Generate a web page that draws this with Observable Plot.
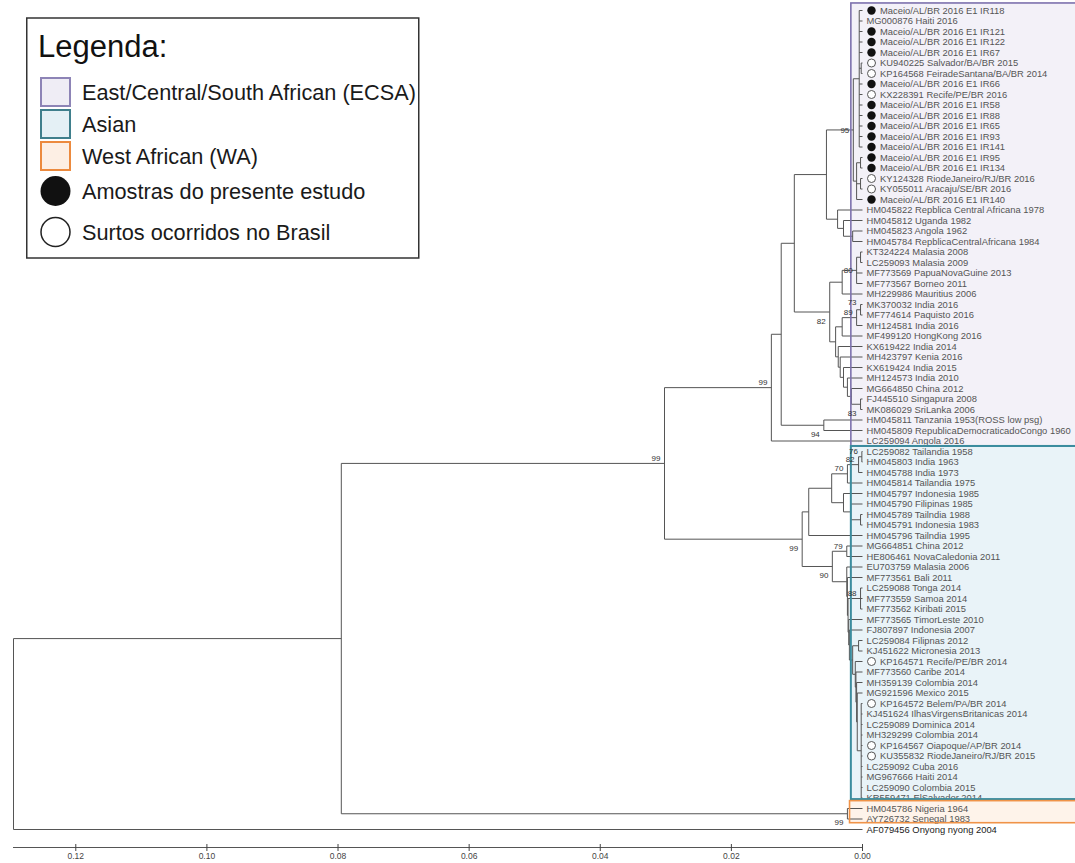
<!DOCTYPE html>
<html>
<head>
<meta charset="utf-8">
<script src="https://cdn.jsdelivr.net/npm/d3@7"></script>
<script src="https://cdn.jsdelivr.net/npm/@observablehq/plot@0.6"></script>
<style>
html,body{margin:0;padding:0;background:#fff;}
#wrap{position:relative;width:1075px;height:863px;overflow:hidden;background:#fff;}
#legend{position:absolute;left:0;top:0;}
</style>
</head>
<body>
<div id="wrap">
<div id="chart"></div>
<svg id="legend" width="430" height="275" font-family="Liberation Sans, Arial, sans-serif"></svg>
</div>
<script>
// ---------------- DATA ----------------
const leafNames = [
"Maceio/AL/BR 2016 E1 IR118","MG000876 Haiti 2016","Maceio/AL/BR 2016 E1 IR121","Maceio/AL/BR 2016 E1 IR122",
"Maceio/AL/BR 2016 E1 IR67","KU940225 Salvador/BA/BR 2015","KP164568 FeiradeSantana/BA/BR 2014","Maceio/AL/BR 2016 E1 IR66",
"KX228391 Recife/PE/BR 2016","Maceio/AL/BR 2016 E1 IR58","Maceio/AL/BR 2016 E1 IR88","Maceio/AL/BR 2016 E1 IR65",
"Maceio/AL/BR 2016 E1 IR93","Maceio/AL/BR 2016 E1 IR141","Maceio/AL/BR 2016 E1 IR95","Maceio/AL/BR 2016 E1 IR134",
"KY124328 RiodeJaneiro/RJ/BR 2016","KY055011 Aracaju/SE/BR 2016","Maceio/AL/BR 2016 E1 IR140",
"HM045822 Repblica Central Africana 1978","HM045812 Uganda 1982","HM045823 Angola 1962","HM045784 RepblicaCentralAfricana 1984",
"KT324224 Malasia 2008","LC259093 Malasia 2009","MF773569 PapuaNovaGuine 2013","MF773567 Borneo 2011","MH229986 Mauritius 2006",
"MK370032 India 2016","MF774614 Paquisto 2016","MH124581 India 2016","MF499120 HongKong 2016","KX619422 India 2014",
"MH423797 Kenia 2016","KX619424 India 2015","MH124573 India 2010","MG664850 China 2012","FJ445510 Singapura 2008",
"MK086029 SriLanka 2006","HM045811 Tanzania 1953(ROSS low psg)","HM045809 RepublicaDemocraticadoCongo 1960","LC259094 Angola 2016",
"LC259082 Tailandia 1958","HM045803 India 1963","HM045788 India 1973","HM045814 Tailandia 1975","HM045797 Indonesia 1985",
"HM045790 Filipinas 1985","HM045789 Tailndia 1988","HM045791 Indonesia 1983","HM045796 Tailndia 1995","MG664851 China 2012",
"HE806461 NovaCaledonia 2011","EU703759 Malasia 2006","MF773561 Bali 2011","LC259088 Tonga 2014","MF773559 Samoa 2014",
"MF773562 Kiribati 2015","MF773565 TimorLeste 2010","FJ807897 Indonesia 2007","LC259084 Filipnas 2012","KJ451622 Micronesia 2013",
"KP164571 Recife/PE/BR 2014","MF773560 Caribe 2014","MH359139 Colombia 2014","MG921596 Mexico 2015","KP164572 Belem/PA/BR 2014",
"KJ451624 IlhasVirgensBritanicas 2014","LC259089 Dominica 2014","MH329299 Colombia 2014","KP164567 Oiapoque/AP/BR 2014",
"KU355832 RiodeJaneiro/RJ/BR 2015","LC259092 Cuba 2016","MG967666 Haiti 2014","LC259090 Colombia 2015","KR559471 ElSalvador 2014",
"HM045786 Nigeria 1964","AY726732 Senegal 1983","AF079456 Onyong nyong 2004"
];
const filledLeaves = [0,2,3,4,7,9,10,11,12,13,14,15,18];      // Amostras do presente estudo
const openLeaves   = [5,6,8,16,17,62,66,70,71];               // Surtos ocorridos no Brasil
const outgroupLeaf = 78;

// internal nodes: id, height (distance from tips), children (leaf index or node id)
const nodeIds = ["root","chikv","wa","ea","ecsa","eA","eTC","eB","eC","amer","amA","am56","amB","am1415","amC",
  "eE","eF","eG","eD","eH","n80","n2324","eI","eK","n89","n73","eL","eM","eN","eO","eP","eQ",
  "asian","asA","asA1","n70","n82","n76","asA2","asA3","n4849","asB","n79","asC","asC2","asC3","n88","asC4","asC5",
  "asE","n6061","asF","asF2","asF3","asF4","n6675"];
const nodeHeights = [0.1295,0.0795,0.0023,0.0302,0.0139,0.0124,0.0059,0.0104,0.0055,0.0014,0.0005,0.0002,0.0009,0.0003,0.0003,
  0.0038,0.0029,0.0015,0.0050,0.0031,0.0009,0.0003,0.0041,0.0031,0.0009,0.0003,0.0037,0.0034,0.0029,0.0023,0.0017,0.0003,
  0.0092,0.0082,0.0047,0.0023,0.0006,0.0001,0.0029,0.0018,0.0003,0.0046,0.0024,0.0024,0.0023,0.0022,0.0003,0.0021,0.0020,
  0.0015,0.0006,0.0011,0.0010,0.0009,0.0008,0.0002];
const nodeChildren = [
  ["chikv",78],["ea","wa"],[76,77],["ecsa","asian"],["eA",41],["eB","eTC"],[39,40],["eC","eD"],["amer","eE"],["amA","amB"],
  [0,1,2,3,4,"am56",7,8,9,10,11,12,13],[5,6],["am1415","amC",18],[14,15],[16,17],
  [19,"eF"],[20,"eG"],[21,22],["eH","eI"],["n80",27],["n2324",25,26],[23,24],["eK","eL"],["n89",31],["n73",30],[28,29],
  [32,"eM"],[33,"eN"],[34,"eO"],[35,"eP"],[36,"eQ"],[37,38],
  ["asA","asB"],["asA1",50],["n70","asA2"],["n82",45],["n76",44],[42,43],[46,"asA3"],[47,"n4849"],[48,49],
  ["n79","asC"],[51,52],[53,"asC2"],[54,"asC3"],["n88","asC4"],[55,56,57],[58,"asC5"],[59,"asE"],
  ["n6061","asF"],[60,61],[62,"asF2"],[63,"asF3"],[64,"asF4"],[65,"n6675"],[66,67,68,69,70,71,72,73,74,75]
];
// bootstrap values
const bootNodes  = ["wa","ea","ecsa","eTC","amer","eD","n80","n89","n73","eQ","asian","n70","n82","n76","asB","n79","n88"];
const bootValues = [99,99,99,94,95,82,80,89,73,83,99,70,82,76,90,79,88];
const bootBelow  = ["wa","eTC","eD","eQ","asian","asB"];
const bootLevel  = ["amer","n80"];
const bootHigh   = ["n73"];

// clades (boxes)
const cladeNames  = ["East/Central/South African (ECSA)","Asian","West African (WA)"];
const cladeFirst  = [0,42,76];
const cladeLast   = [41,75,77];
const cladeFill   = ["#f3f1f8","#e9f3f8","#fef3ea"];
const cladeStroke = ["#7d71ad","#3b8c9e","#f09348"];
const swatchFill  = ["#efedf5","#e4f0f5","#fdefe4"];
const swatchStroke= ["#8d84b6","#3f7f8c","#ec8a3e"];
const markerNames = ["Amostras do presente estudo","Surtos ocorridos no Brasil"];
const legendTitle = "Legenda:";
const axisTicks = [0.12,0.10,0.08,0.06,0.04,0.02,0.00];

// ---------------- LAYOUT ----------------
const idx = new Map(nodeIds.map((id,i)=>[id,i]));
const hOf = c => typeof c === "number" ? 0 : nodeHeights[idx.get(c)];
const yMemo = new Map();
function yOf(c){
  if (typeof c === "number") return c;
  if (yMemo.has(c)) return yMemo.get(c);
  const ch = nodeChildren[idx.get(c)];
  const v = (yOf(ch[0]) + yOf(ch[ch.length-1]))/2;
  yMemo.set(c,v); return v;
}
const segs = [];
nodeIds.forEach((id,i)=>{
  const h = nodeHeights[i], ch = nodeChildren[i];
  segs.push({x1:h,x2:h,y1:yOf(ch[0]),y2:yOf(ch[ch.length-1])});
  ch.forEach(c=>segs.push({x1:h,x2:hOf(c),y1:yOf(c),y2:yOf(c)}));
});
const boots = bootNodes.map((n,i)=>({h:hOf(n),y:yOf(n),v:bootValues[i],
  pos: bootBelow.includes(n) ? "b" : bootLevel.includes(n) ? "m" : bootHigh.includes(n) ? "h" : "a"}));
const rootH = nodeHeights[0];
const yMax = 79.714;
const boxes = [
  {i:0, y1:cladeFirst[0]-0.67, y2:cladeLast[0]+0.52, x1:0.0017},
  {i:1, y1:cladeFirst[1]-0.48, y2:cladeLast[1]+0.15, x1:0.0017},
  {i:2, y1:cladeFirst[2]-0.70, y2:cladeLast[2]+0.40, x1:0.0019}
];
boxes.forEach(b=>{b.x2=-0.05;b.fill=cladeFill[b.i];b.stroke=cladeStroke[b.i];});
const markerSet = new Set([...filledLeaves,...openLeaves]);
const plainLeaves = leafNames.map((d,i)=>i).filter(i=>!markerSet.has(i) && i!==outgroupLeaf);
const markedLeaves = [...markerSet].sort((a,b)=>a-b);

const F = "Liberation Sans, Arial, sans-serif";
const LF = 9.4;
const bootOpts = (dy) => ({x:"h",y:"y",text:"v",dx:-4,dy,textAnchor:"end",fontSize:8,fill:"#333"});
const chart = Plot.plot({
  width:1075, height:863,
  marginLeft:13, marginRight:213, marginTop:10, marginBottom:16,
  x:{domain:[rootH,0], axis:null},
  y:{domain:[0,yMax], reverse:true, axis:null},
  style:{fontFamily:F, background:"white", color:"#444"},
  marks:[
    Plot.rect(boxes,{x1:"x1",x2:"x2",y1:"y1",y2:"y2",fill:d=>d.fill}),
    Plot.link(segs,{x1:"x1",x2:"x2",y1:"y1",y2:"y2",stroke:"#555",strokeWidth:1}),
    Plot.text(plainLeaves,{x:()=>0,y:d=>d,text:d=>leafNames[d],dx:4,textAnchor:"start",fontSize:LF,fill:"#555"}),
    Plot.text(markedLeaves,{x:()=>0,y:d=>d,text:d=>leafNames[d],dx:17.5,textAnchor:"start",fontSize:LF,fill:"#555"}),
    Plot.text([outgroupLeaf],{x:()=>0,y:d=>d,text:d=>leafNames[d],dx:4,textAnchor:"start",fontSize:LF,fill:"#1a1a1a"}),
    Plot.dot(filledLeaves,{x:()=>0,y:d=>d,dx:9,r:4.2,fill:"#111"}),
    Plot.dot(openLeaves,{x:()=>0,y:d=>d,dx:9,r:4,fill:"white",stroke:"#555",strokeWidth:1}),
    Plot.rect(boxes,{x1:"x1",x2:"x2",y1:"y1",y2:"y2",fill:"none",stroke:d=>d.stroke,strokeWidth:d=>d.i===1?2:1.6}),
    Plot.text(boots.filter(d=>d.pos==="a"), bootOpts(-5)),
    Plot.text(boots.filter(d=>d.pos==="h"), bootOpts(-7)),
    Plot.text(boots.filter(d=>d.pos==="b"), bootOpts(9)),
    Plot.text(boots.filter(d=>d.pos==="m"), bootOpts(0)),
    Plot.ruleY([yMax],{x1:rootH,x2:0,stroke:"#555",strokeWidth:1}),
    Plot.axisX({ticks:axisTicks,tickFormat:d3.format(".2f"),tickSize:7,tickPadding:1,dy:-3,fontSize:8.5,color:"#444"})
  ]
});
document.getElementById("chart").appendChild(chart);

// ---------------- LEGEND (overlay) ----------------
const lg = d3.select("#legend");
lg.append("rect").attr("x",26.75).attr("y",18).attr("width",392).attr("height",240)
  .attr("fill","#fff").attr("stroke","#333").attr("stroke-width",1.5);
lg.append("text").attr("x",38).attr("y",57).attr("font-size",31).attr("fill","#111").text(legendTitle);
cladeNames.forEach((n,i)=>{
  const y0 = 78 + i*32;
  lg.append("rect").attr("x",41).attr("y",y0).attr("width",29).attr("height",28)
    .attr("fill",swatchFill[i]).attr("stroke",swatchStroke[i]).attr("stroke-width",2);
  lg.append("text").attr("x",82).attr("y",y0+22).attr("font-size",21.7).attr("fill","#1a1a1a").text(n);
});
markerNames.forEach((n,i)=>{
  const cy = 191 + i*41;
  lg.append("circle").attr("cx",55.5).attr("cy",cy).attr("r",i===0?15:14.5)
    .attr("fill",i===0?"#111":"none").attr("stroke",i===0?"none":"#222").attr("stroke-width",1.5);
  lg.append("text").attr("x",82).attr("y",cy+8).attr("font-size",21.7).attr("fill","#1a1a1a").text(n);
});
</script>
</body>
</html>
